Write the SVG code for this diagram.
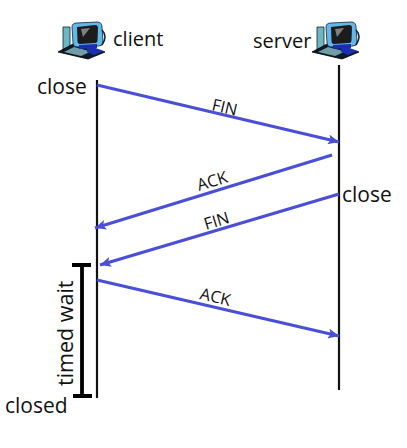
<svg xmlns="http://www.w3.org/2000/svg" width="407" height="448" viewBox="0 0 407 448">
<style>
text{font-family:"Open Sans","DejaVu Sans",sans-serif;fill:#111}
.lb{font-size:21px}
.nm{font-size:20px}
.ml{font-size:16.500px}
.life{stroke:#111;stroke-width:2.2;fill:none}
.msg{stroke:#4a4fd8;stroke-width:3.200;fill:none;marker-end:url(#ah)}
.bar{stroke:#000;stroke-width:3.800;fill:none}
</style>
<defs>
<marker id="ah" markerUnits="userSpaceOnUse" markerWidth="12" markerHeight="10" refX="11" refY="5" orient="auto"><path d="M0 0L11 5L0 10L2.500 5Z" fill="#4a4fd8"/></marker>
<symbol id="pc" width="50" height="38" viewBox="0 0 50 38" overflow="visible">
<path d="M6 5H13V28H6Z" fill="#6db8c0" stroke="#123" stroke-width=".8"/>
<path d="M1 30L16 22L48 30L31 37Z" fill="#0c1a2a" stroke="#000" stroke-width=".8"/>
<path d="M7 30L17 25L34 29.500L24 34Z" fill="#6f9fa5"/>
<path d="M30 23L47 29L37 33L30 30Z" fill="#1a2fb0"/>
<path d="M15 5Q15 1 20 1L40 0Q45 0 45 5L46 20Q46 24 42 24L20 25Q16 25 16 21Z" fill="#62b8e8" stroke="#123" stroke-width=".8"/>
<path d="M20 5L38 3Q41 3 41 6L40.500 18Q40.500 21 38 21L23 22Q20.500 22 20.500 19Z" fill="#1c1c1c"/>
<path d="M24 7L33 6L26 15Z" fill="#808080"/>
<path d="M45 8Q51 14 45 23" fill="none" stroke="#123" stroke-width="1.500"/>
<path d="M22 23L40 22V26L22 27Z" fill="#1a2fb0"/>
</symbol>
</defs>
<g id="client"><use href="#pc" x="57" y="22"/><text class="nm" x="113" y="46">client</text></g>
<g id="server"><use href="#pc" x="311" y="22"/><text class="nm" x="253" y="48">server</text></g>
<g id="connectors">
<path class="life" d="M97 80V398"/>
<path class="life" d="M339 65V390"/>
<path class="msg" d="M97 85L339 142"/>
<path class="msg" d="M332 155L95 228"/>
<path class="msg" d="M339 194L100 265"/>
<path class="msg" d="M97 280L339 336"/>
<path class="bar" d="M82 265V396M72 265H91M73 396H92"/>
</g>
<g id="labels">
<text class="lb" x="37" y="94">close</text>
<text class="lb" x="342" y="202">close</text>
<text class="lb" x="5" y="413">closed</text>
<text font-size="21.500" transform="translate(73 386) rotate(-90)">timed wait</text>
<text class="ml" transform="translate(211 110) rotate(13)">FIN</text>
<text class="ml" transform="translate(199 191) rotate(-17)">ACK</text>
<text class="ml" transform="translate(206 230) rotate(-17)">FIN</text>
<text class="ml" transform="translate(199 299) rotate(13)">ACK</text>
</g>
</svg>
